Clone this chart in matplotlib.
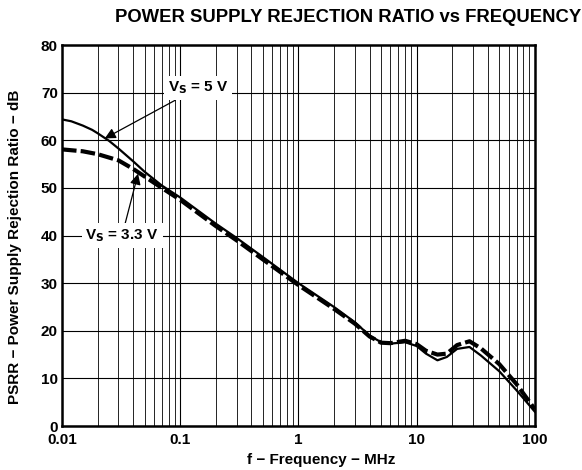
import numpy as np
import matplotlib
matplotlib.use('Agg')
import matplotlib.pyplot as plt
from matplotlib.ticker import FixedLocator, NullFormatter

plt.rcParams['font.family'] = ['Liberation Sans', 'DejaVu Sans']

# ---- data ----
freq_5v = [0.01, 0.012, 0.015, 0.018, 0.02, 0.025, 0.03, 0.04, 0.05, 0.07, 0.1, 0.2, 0.3, 0.5, 1, 2, 3, 4, 5, 6, 8, 10, 12, 15, 18, 22, 28, 35, 50, 70, 100]
psrr_5v = [64.4, 64.0, 63.1, 62.2, 61.5, 59.9, 58.3, 55.6, 53.4, 50.5, 48, 42.5, 39.5, 35.5, 30, 25, 21.8, 19, 17.6, 17.3, 17.6, 16.8, 15.2, 13.8, 14.5, 16.2, 16.6, 14.8, 11.5, 7.5, 3]
freq_33v = [0.01, 0.015, 0.02, 0.03, 0.04, 0.05, 0.07, 0.1, 0.2, 0.3, 0.5, 1, 2, 3, 4, 5, 6, 8, 10, 12, 15, 18, 22, 28, 35, 50, 70, 100]
psrr_33v = [58.1, 57.7, 57.1, 55.8, 54.0, 52.4, 50.0, 47.5, 42, 39, 35, 29.6, 24.6, 21.5, 18.8, 17.5, 17.4, 17.9, 17.2, 15.8, 15, 15.2, 17, 17.8, 16.3, 13, 8.8, 3.5]

xticks = [0.01, 0.1, 1, 10, 100]
xticklabels = ['0.01', '0.1', '1', '10', '100']
yticks = [0, 10, 20, 30, 40, 50, 60, 70, 80]

fig = plt.figure(figsize=(5.82, 4.70), dpi=100)
ax = fig.add_axes([0.1065, 0.0936, 0.8125, 0.8104])

ax.plot(freq_5v, psrr_5v, color='black', lw=1.6, zorder=3)
ax.plot(freq_33v, psrr_33v, color='black', lw=3.0, dashes=(3.5, 1.0), zorder=3)

ax.set_xscale('log')
ax.set_xlim(0.01, 100)
ax.set_ylim(0, 80)
ax.set_xticks(xticks)
ax.set_xticklabels(xticklabels)
ax.xaxis.set_minor_locator(FixedLocator([m * 10.0 ** e for e in range(-2, 2) for m in range(2, 10)]))
ax.xaxis.set_minor_formatter(NullFormatter())
ax.set_yticks(yticks)

ax.grid(True, which='major', color='black', lw=0.8)
ax.grid(True, which='minor', axis='x', color='black', lw=0.6)
ax.tick_params(which='both', length=0, labelsize=11)
ax.tick_params(axis='x', pad=5)
ax.tick_params(axis='y', pad=3)
for lbl in ax.get_xticklabels() + ax.get_yticklabels():
    lbl.set_fontweight('bold')
for sp in ax.spines.values():
    sp.set_linewidth(1.8)

ax.set_xlabel('f − Frequency − MHz', fontsize=11, fontweight='bold')
ax.xaxis.set_label_coords(0.548, -0.07)
ax.set_ylabel('PSRR − Power Supply Rejection Ratio − dB', fontsize=11, fontweight='bold')
ax.yaxis.set_label_coords(-0.085, 0.47)
fig.text(0.598, 0.962, 'POWER SUPPLY REJECTION RATIO vs FREQUENCY', ha='center', va='center',
         fontsize=13.3, fontweight='bold')

box = dict(boxstyle='square,pad=0.25', fc='white', ec='none')
arrow = dict(arrowstyle='-|>', color='black', lw=0.9, mutation_scale=16, shrinkA=0, shrinkB=0)
ax.annotate(r'V$_\mathbf{S}$ = 5 V', xy=(0.023, 60.4), xytext=(0.141, 71), fontsize=11, fontweight='bold',
            ha='center', va='center', bbox=box, arrowprops=arrow, zorder=5)
ax.annotate(r'V$_\mathbf{S}$ = 3.3 V', xy=(0.044, 53.0), xytext=(0.0322, 40), fontsize=11, fontweight='bold',
            ha='center', va='center', bbox=box, arrowprops=arrow, zorder=5)

fig.savefig('out.png', dpi=100)
